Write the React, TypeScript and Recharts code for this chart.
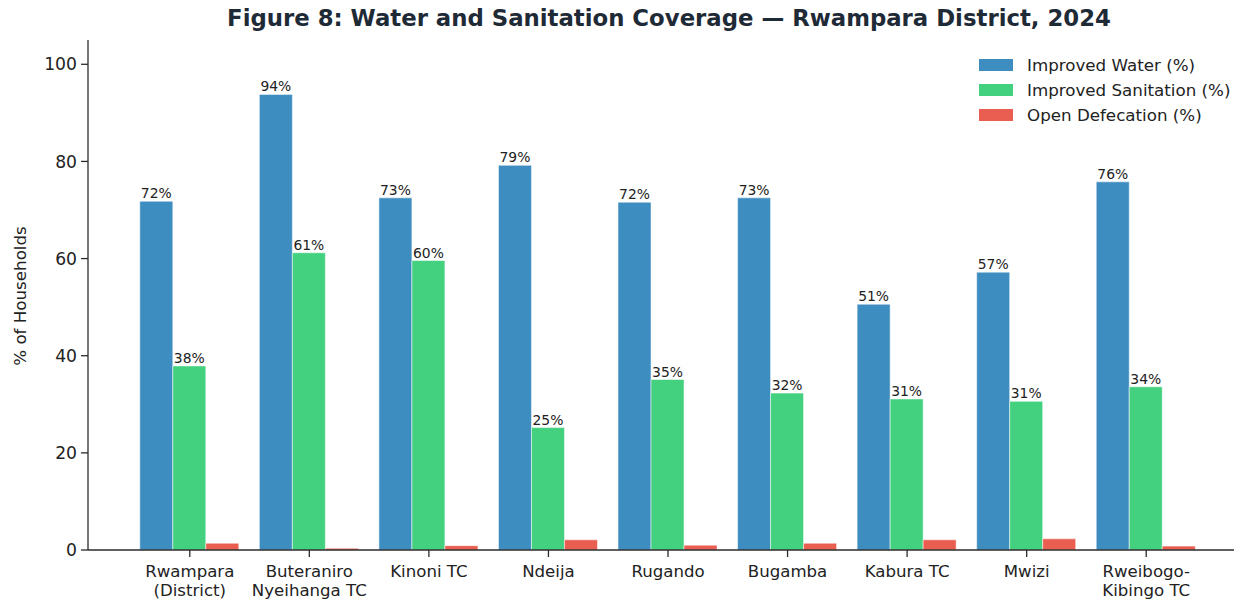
import { Bar, BarChart, LabelList, Legend, XAxis, YAxis } from 'recharts';

const categories = [
  'Rwampara\n(District)',
  'Buteraniro\nNyeihanga TC',
  'Kinoni TC',
  'Ndeija',
  'Rugando',
  'Bugamba',
  'Kabura TC',
  'Mwizi',
  'Rweibogo-\nKibingo TC',
];
const improvedWater = [71.8, 93.8, 72.5, 79.2, 71.6, 72.5, 50.6, 57.2, 75.8];
const improvedSanitation = [37.9, 61.2, 59.6, 25.2, 35.1, 32.3, 31.1, 30.6, 33.6];
const openDefecation = [1.4, 0.35, 0.9, 2.1, 1.0, 1.4, 2.1, 2.3, 0.8];
const yTicks = [0, 20, 40, 60, 80, 100];

const series = [
  { key: 'water', name: 'Improved Water (%)', color: '#3e8dc0', labelled: true },
  { key: 'sanitation', name: 'Improved Sanitation (%)', color: '#43d17f', labelled: true },
  { key: 'openDef', name: 'Open Defecation (%)', color: '#e95e50', labelled: false },
];

const FONT = '"DejaVu Sans", sans-serif';
const INK = '#222';
const SPINE = '#2b2b2b';

const chartData = categories.map((name, i) => ({
  name,
  water: improvedWater[i],
  sanitation: improvedSanitation[i],
  openDef: openDefecation[i],
}));

// multi-line category labels, split on \n
function CategoryTick({ x, y, payload }: any) {
  const lines = String(payload.value).split('\n');
  return (
    <text x={x} y={y} textAnchor="middle" fill={INK} fontSize={16.6} fontFamily={FONT}>
      {lines.map((line, i) => (
        <tspan key={i} x={x} dy={i === 0 ? 16.5 : 19.5}>
          {line}
        </tspan>
      ))}
    </text>
  );
}

function LegendBox() {
  return (
    <div style={{ fontFamily: FONT, fontSize: 16.7, color: INK }}>
      {series.map((s) => (
        <div key={s.key} style={{ display: 'flex', alignItems: 'center', height: 25 }}>
          <span style={{ width: 34, height: 12, background: s.color, marginRight: 14 }} />
          <span>{s.name}</span>
        </div>
      ))}
    </div>
  );
}

export default function App() {
  return (
    <div style={{ position: 'absolute', left: 0, top: 0, width: 1234, height: 600, background: '#fff' }}>
      <div
        style={{
          position: 'absolute',
          left: 0,
          top: 5,
          width: 1338,
          textAlign: 'center',
          fontFamily: FONT,
          fontWeight: 'bold',
          fontSize: 22.8,
          color: '#1f2a37',
          whiteSpace: 'nowrap',
        }}
      >
        Figure 8: Water and Sanitation Coverage — Rwampara District, 2024
      </div>
      <BarChart
        width={1234}
        height={600}
        data={chartData}
        margin={{ top: 40, right: 0, left: 0, bottom: 0 }}
        barCategoryGap={9.8}
        barGap={0}
      >
        <XAxis
          dataKey="name"
          interval={0}
          height={50}
          padding={{ left: 42, right: 28 }}
          tick={<CategoryTick />}
          tickSize={7}
          tickMargin={3}
          axisLine={{ stroke: SPINE, strokeWidth: 1.3 }}
          tickLine={{ stroke: SPINE, strokeWidth: 1.3 }}
        />
        <YAxis
          width={88}
          domain={[0, 105]}
          ticks={yTicks}
          allowDataOverflow
          tickSize={7}
          tickMargin={4}
          tick={{ fill: INK, fontSize: 17.2, fontFamily: FONT }}
          axisLine={{ stroke: SPINE, strokeWidth: 1.3 }}
          tickLine={{ stroke: SPINE, strokeWidth: 1.3 }}
          label={{
            content: () => (
              <text
                x={20}
                y={296}
                transform="rotate(-90 20 296)"
                textAnchor="middle"
                dominantBaseline="central"
                fill={INK}
                fontSize={16.7}
                fontFamily={FONT}
              >
                % of Households
              </text>
            ),
          }}
        />
        <Legend
          verticalAlign="top"
          align="right"
          content={<LegendBox />}
          wrapperStyle={{ position: 'absolute', left: 979, top: 52, width: 260, height: 0, overflow: 'visible' }}
        />
        {series.map((s) => (
          <Bar
            key={s.key}
            dataKey={s.key}
            name={s.name}
            fill={s.color}
            stroke="#ffffff"
            strokeWidth={0.5}
            isAnimationActive={false}
          >
            {s.labelled && (
              <LabelList
                dataKey={s.key}
                position="top"
                offset={3}
                formatter={(v: any) => `${Math.round(Number(v))}%`}
                fill={INK}
                fontSize={13.9}
                fontFamily={FONT}
              />
            )}
          </Bar>
        ))}
      </BarChart>
    </div>
  );
}
